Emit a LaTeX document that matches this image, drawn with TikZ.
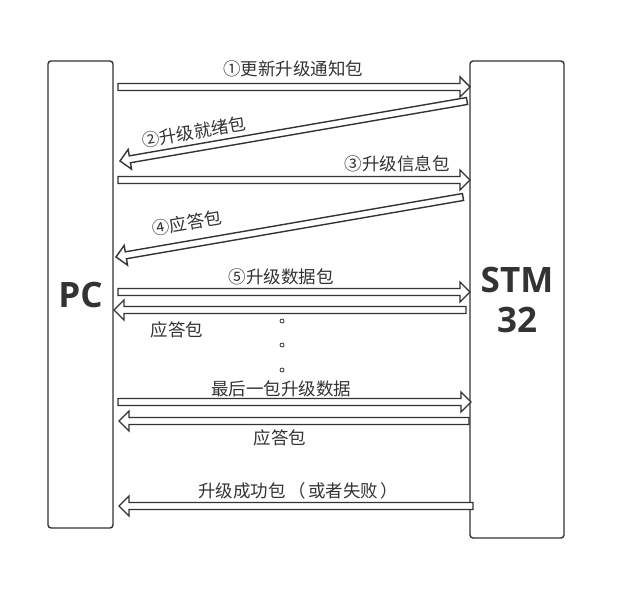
\documentclass[tikz,border=0pt]{standalone}
\usepackage{fontspec}
\setmainfont{Noto Sans CJK SC}
\newfontfamily\boxfont{Open Sans}
\usetikzlibrary{calc}
\definecolor{linegray}{HTML}{333333}
\tikzset{
  box/.style={draw=linegray, line width=1.4pt, rounded corners=3pt, text=linegray, align=center,
    font=\boxfont\bfseries\fontsize{35}{40}\selectfont},
  msg/.style={text=linegray, inner sep=0pt, font=\fontsize{17.5}{19}\selectfont},
  fatarrow/.style={draw=linegray, line width=1.4pt, fill=white, line join=miter},
}
% 空心箭头：从 #1 指向 #2
\newcommand{\sendarrow}[2]{%
  \draw[fatarrow] ($(#1)!3.5pt!90:(#2)$) -- ($(#2)!10pt!(#1)!3.5pt!90:(#2)$)
    -- ($(#2)!10pt!(#1)!10pt!90:(#2)$) -- (#2)
    -- ($(#2)!10pt!(#1)!10pt!-90:(#2)$) -- ($(#2)!10pt!(#1)!3.5pt!-90:(#2)$)
    -- ($(#1)!3.5pt!-90:(#2)$) -- cycle;}
\begin{document}
\begin{tikzpicture}[x=1pt,y=-1pt]
  \useasboundingbox (0,0) rectangle (626,601);
  % 绘制两个设备
  \node[box, minimum width=65pt, minimum height=467pt] (pc) at (80.5,294.5) {PC};
  \node[box, minimum width=94pt, minimum height=477pt] (stm) at (517,299.5) {STM\\32};
  % 箭头端点
  \coordinate (a1) at (118,87);  \coordinate (b1) at (470,87);
  \coordinate (a2) at (467,101); \coordinate (b2) at (120,161);
  \coordinate (a3) at (118,180); \coordinate (b3) at (470,180);
  \coordinate (a4) at (463,197); \coordinate (b4) at (116,257);
  \coordinate (a5) at (118,292); \coordinate (b5) at (470,292);
  \coordinate (a6) at (466,310); \coordinate (b6) at (114,310);
  \coordinate (a7) at (118,402); \coordinate (b7) at (471,402);
  \coordinate (a8) at (469,421); \coordinate (b8) at (119,421);
  \coordinate (a9) at (473,506); \coordinate (b9) at (119,506);
  % 绘制箭头
  \foreach \i in {1,...,9}
    \sendarrow{a\i}{b\i};
  % 绘制文字
  \node[msg] (m1) at (293,69) {①更新升级通知包};
  \node[msg, rotate=9.6] (m2) at (194,132) {②升级就绪包};
  \node[msg] (m3) at (397,164) {③升级信息包};
  \node[msg, rotate=9.8] (m4) at (187,223) {④应答包};
  \node[msg] (m5) at (281,277) {⑤升级数据包};
  \node[msg] (m6) at (177,330) {应答包};
  \node[msg] (m7) at (281,389) {最后一包升级数据};
  \node[msg] (m8) at (280,438) {应答包};
  \node[msg] (m9) at (298,491) {升级成功包\hspace{3pt}（\hspace{2pt}或者失败\hspace{2pt}）};
  % 省略号
  \foreach \y in {321,345,370}
    \draw[linegray, line width=0.8pt] (282,\y) circle (2pt);
\end{tikzpicture}
\end{document}
